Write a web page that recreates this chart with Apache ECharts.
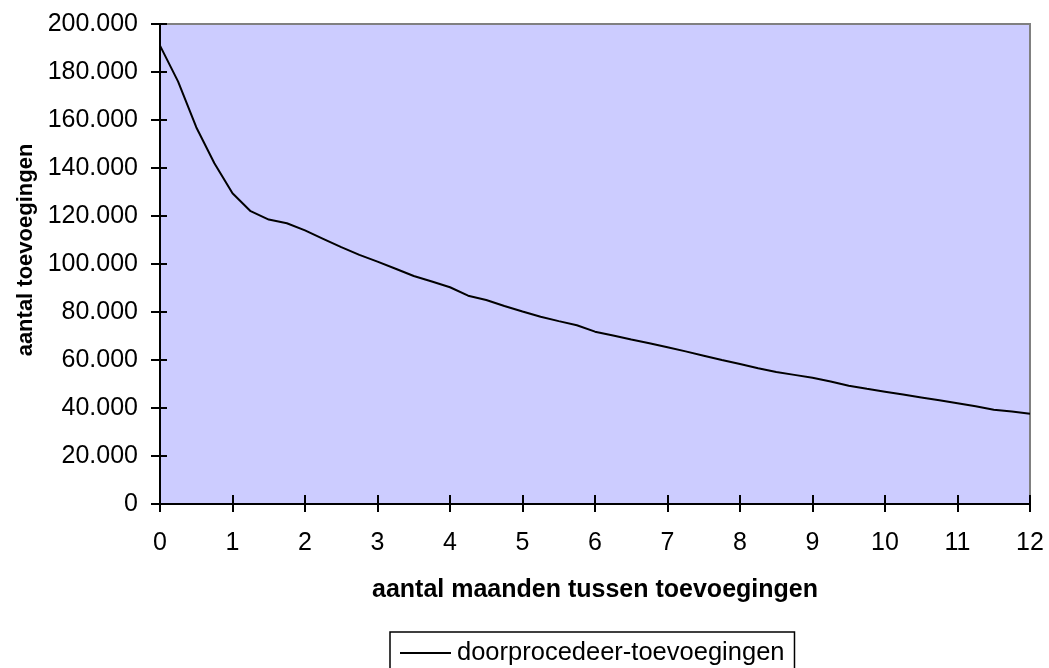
<!DOCTYPE html>
<html>
<head>
<meta charset="utf-8">
<script src="https://cdn.jsdelivr.net/npm/echarts@6/dist/echarts.min.js"></script>
<style>
  html, body { margin: 0; padding: 0; background: #fff; }
  #chart { width: 1049px; height: 668px; }
</style>
</head>
<body>
<div id="chart"></div>
<script>
// months between additions (weekly steps)
const months = [
  0, 0.25, 0.5, 0.75, 1, 1.25, 1.5, 1.75, 2, 2.25, 2.5, 2.75,
  3, 3.25, 3.5, 3.75, 4, 4.25, 4.5, 4.75, 5, 5.25, 5.5, 5.75,
  6, 6.25, 6.5, 6.75, 7, 7.25, 7.5, 7.75, 8, 8.25, 8.5, 8.75,
  9, 9.25, 9.5, 9.75, 10, 10.25, 10.5, 10.75, 11, 11.25, 11.5, 11.75, 12
]
// doorprocedeer-toevoegingen
const additions = [
  191000, 176000, 157000, 142000, 129500, 122000, 118500, 117000, 114000, 110500, 107000, 103800,
  101000, 98000, 95000, 92700, 90300, 86800, 85000, 82500, 80200, 78000, 76200, 74500,
  71800, 70200, 68500, 67000, 65300, 63600, 61800, 60000, 58300, 56600, 55000, 53800,
  52600, 51000, 49300, 48000, 46800, 45600, 44400, 43200, 42000, 40700, 39300, 38500, 37600
]
const seriesName = 'doorprocedeer-toevoegingen'
const xTitle = 'aantal maanden tussen toevoegingen'
const yTitle = 'aantal toevoegingen'

const font = 'Liberation Sans, Arial, sans-serif'

function fmtThousands(v) {
  return String(v).replace(/\B(?=(\d{3})+(?!\d))/g, '.')
}

const chart = echarts.init(document.getElementById('chart'))

chart.setOption({
  backgroundColor: '#fff',
  animation: false,
  textStyle: { fontFamily: font },
  grid: {
    left: 160,
    right: 19,
    top: 24,
    bottom: 164,
    outerBoundsMode: 'none',
    containLabel: false,
    show: true,
    backgroundColor: '#CCCCFF',
    borderColor: '#808080',
    borderWidth: 2
  },
  legend: {
    left: 390,
    top: 632,
    padding: [8, 10, 8, 10],
    itemWidth: 51,
    itemHeight: 2,
    borderColor: '#000',
    borderWidth: 1.5,
    borderRadius: 0,
    textStyle: { fontFamily: font, fontSize: 25.5, color: '#000', padding: [0, 0, 0, 1] },
    data: [{ name: seriesName, icon: 'rect' }]
  },
  xAxis: [{
    type: 'value',
    min: 0,
    max: 12,
    interval: 1,
    name: xTitle,
    nameLocation: 'middle',
    nameGap: 74,
    nameTextStyle: { fontFamily: font, fontSize: 25, fontWeight: 'bold', color: '#000' },
    axisLine: { onZero: false, lineStyle: { color: '#000', width: 2 } },
    axisTick: { length: 8, lineStyle: { color: '#000', width: 2 } },
    axisLabel: { margin: 27, fontSize: 25, color: '#000', fontFamily: font },
    splitLine: { show: false }
  }, {
    // inner half of the crossing ticks
    type: 'value',
    position: 'bottom',
    min: 0,
    max: 12,
    interval: 1,
    axisLine: { show: false },
    axisTick: { inside: true, length: 9, lineStyle: { color: '#000', width: 2 } },
    axisLabel: { show: false },
    splitLine: { show: false }
  }],
  yAxis: [{
    type: 'value',
    min: 0,
    max: 200000,
    interval: 20000,
    name: yTitle,
    nameLocation: 'middle',
    nameGap: 123,
    nameTextStyle: { fontFamily: font, fontSize: 22, fontWeight: 'bold', color: '#000', padding: [0, 0, 0, 28] },
    axisLine: { show: true, onZero: false, lineStyle: { color: '#000', width: 2 } },
    axisTick: { show: true, length: 9, lineStyle: { color: '#000', width: 2 } },
    axisLabel: { margin: 22, fontSize: 25, color: '#000', fontFamily: font, formatter: fmtThousands },
    splitLine: { show: false }
  }, {
    type: 'value',
    position: 'left',
    min: 0,
    max: 200000,
    interval: 20000,
    axisLine: { show: false },
    axisTick: { show: true, inside: true, length: 7, lineStyle: { color: '#000', width: 2 } },
    axisLabel: { show: false },
    splitLine: { show: false }
  }],
  series: [{
    name: seriesName,
    type: 'line',
    xAxisIndex: 0,
    yAxisIndex: 0,
    symbol: 'none',
    smooth: false,
    lineStyle: { color: '#000', width: 2 },
    itemStyle: { color: '#000' },
    data: months.map((m, i) => [m, additions[i]])
  }]
})
</script>
</body>
</html>
